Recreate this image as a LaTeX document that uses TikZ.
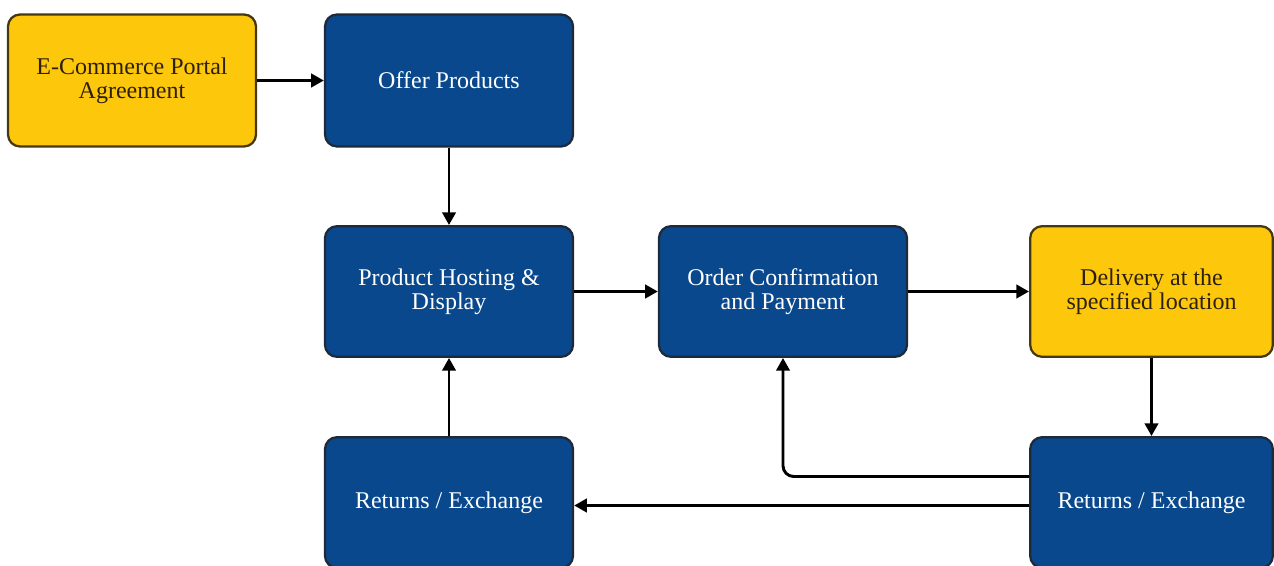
\documentclass[tikz,border=0pt]{standalone}
\usepackage{fontspec}
\setmainfont{Liberation Serif}
\usetikzlibrary{arrows.meta,calc}
\definecolor{boxblue}{RGB}{9,72,141}
\definecolor{blueedge}{RGB}{30,42,58}
\definecolor{boxgold}{RGB}{253,199,12}
\definecolor{goldedge}{RGB}{70,56,16}
\definecolor{goldtext}{RGB}{45,32,10}
\begin{document}
\begin{tikzpicture}[x=0.75pt,y=-0.75pt,
  base/.style={rounded corners=9pt, line width=1.7pt, align=center,
    font=\fontsize{18}{18}\selectfont, minimum width=186pt, minimum height=99pt, inner sep=2pt},
  bluebox/.style={base, fill=boxblue, draw=blueedge, text=white},
  goldbox/.style={base, fill=boxgold, draw=goldedge, text=goldtext},
  link/.style={line width=2.2pt, -{Triangle[length=9.5pt,width=10pt]}}]
\useasboundingbox (0,0) rectangle (1274,566);

\node[goldbox] (ecom) at (132,80.5) {E-Commerce Portal\\Agreement};
\node[bluebox] (offer) at (449,80.5) {Offer Products};
\node[bluebox, minimum height=98pt] (host) at (449,291.5) {Product Hosting \&\\Display};
\node[bluebox, minimum height=98pt] (order) at (783,291.5) {Order Confirmation\\and Payment};
\node[goldbox, minimum width=182pt, minimum height=98pt] (deliv) at (1151.5,291.5) {Delivery at the\\specified location};
\node[bluebox, minimum height=98pt] (retl) at (449,502.5) {Returns / Exchange};
\node[bluebox, minimum width=182pt, minimum height=98pt] (retr) at (1151.5,502.5) {Returns / Exchange};

\draw[link] (ecom) -- (offer);
\draw[link] (offer) -- (host);
\draw[link] (host) -- (order);
\draw[link] (order) -- (deliv);
\draw[link] (deliv) -- (retr);
\draw[link, rounded corners=8pt] ($(retr.west)+(0,-26)$) -| (order.south);
\draw[link] ($(retr.west)+(0,3)$) -- ($(retl.east)+(0,3)$);
\draw[link] (retl) -- (host);
\end{tikzpicture}
\end{document}
